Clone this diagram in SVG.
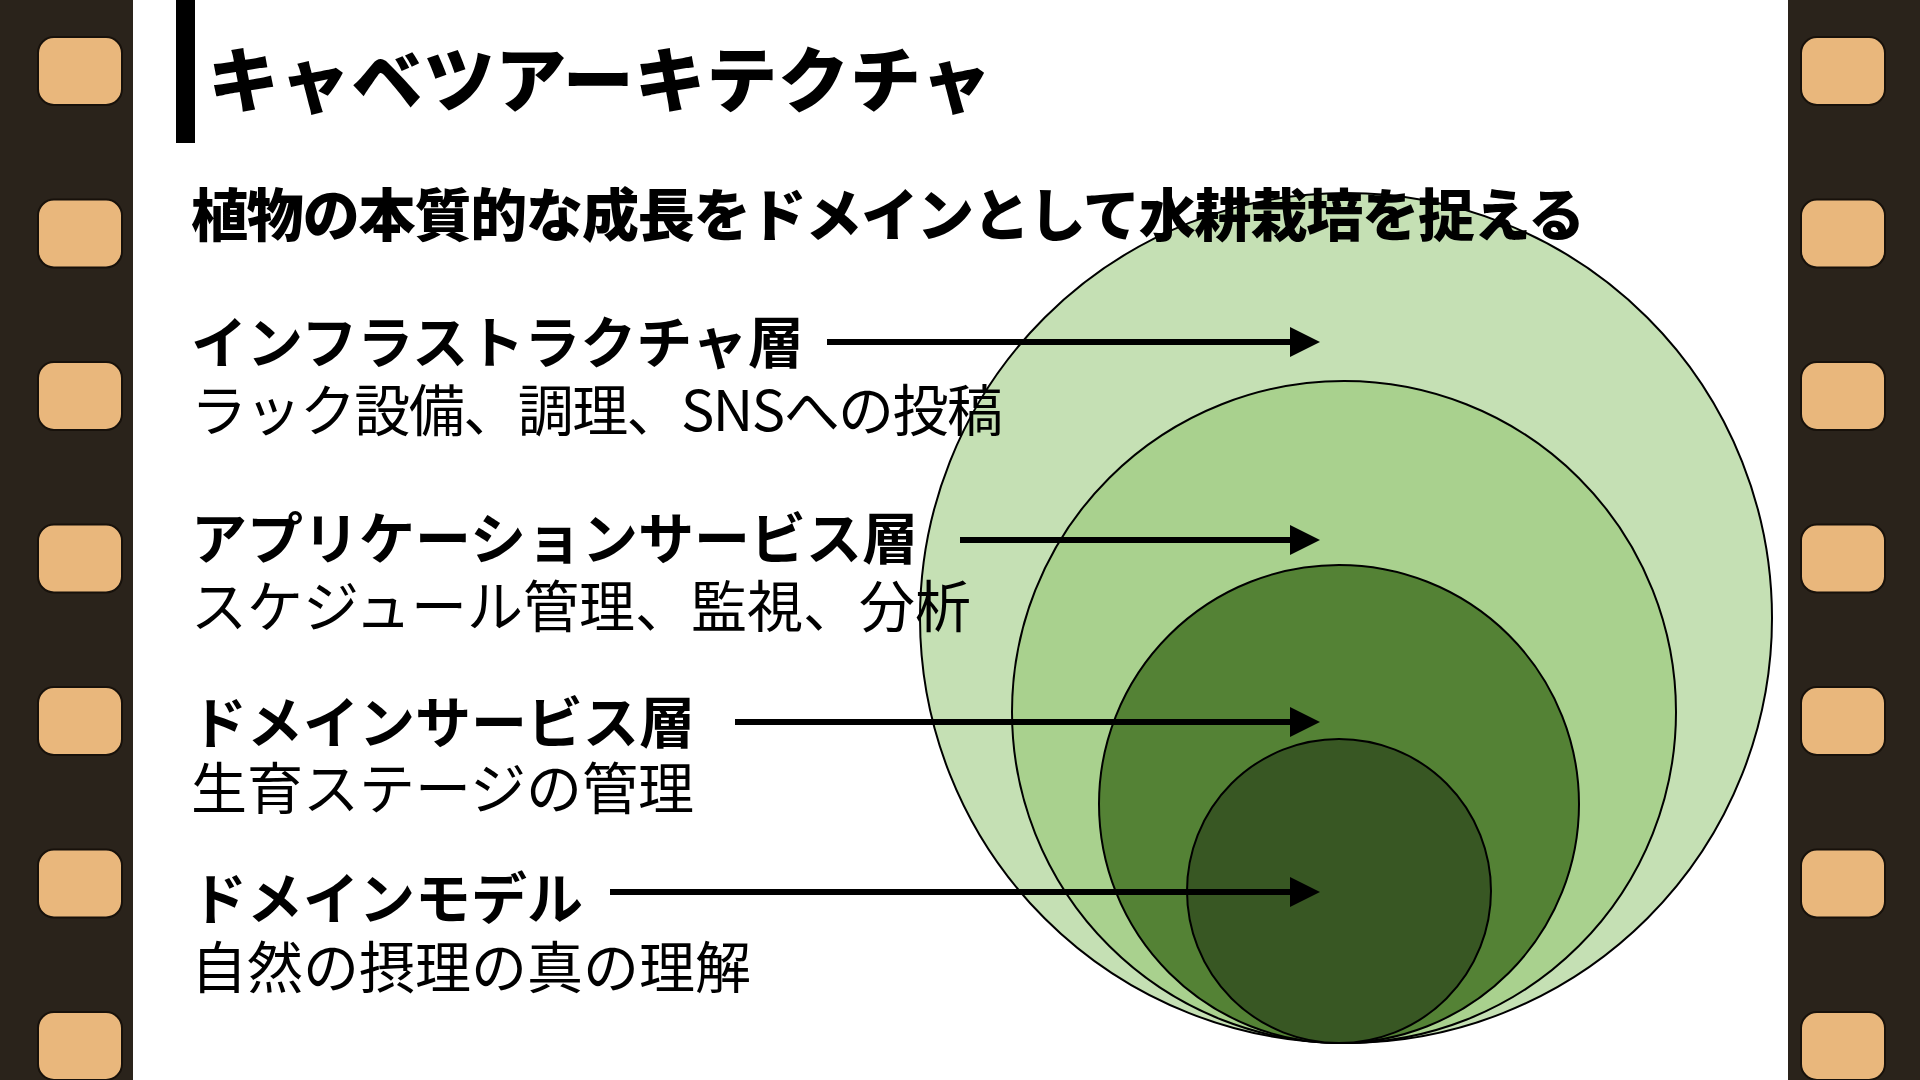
<svg xmlns="http://www.w3.org/2000/svg" width="1920" height="1080" viewBox="0 0 1920 1080">
  <style>
    .strip { fill: #2a231b; }
    .hole { fill: #e9b77c; stroke: #17110b; stroke-width: 2; }
    .ring { stroke: #000; stroke-width: 2; }
    .title { font-family: "Noto Sans CJK JP", "Noto Sans", sans-serif; font-weight: 900; font-size: 71px; fill: #000; }
    .sub { font-family: "Noto Sans CJK JP", "Noto Sans", sans-serif; font-weight: 800; font-size: 57px; fill: #000; }
    .layer { font-family: "Noto Sans CJK JP", "Noto Sans", sans-serif; font-weight: 700; font-size: 56px; fill: #000; }
    .desc { font-family: "Noto Sans CJK JP", "Noto Sans", sans-serif; font-weight: 400; font-size: 56px; fill: #000; }
    .arrow { stroke: #000; stroke-width: 6; fill: none; marker-end: url(#head); }
  </style>
  <defs>
    <marker id="head" markerUnits="userSpaceOnUse" markerWidth="30" markerHeight="30" refX="2" refY="15" orient="auto">
      <path d="M0,0 L30,15 L0,30 z" fill="#000"/>
    </marker>
    <g id="holes">
      <rect class="hole" x="0" y="37" width="84" height="68" rx="16"/>
      <rect class="hole" x="0" y="199.5" width="84" height="68" rx="16"/>
      <rect class="hole" x="0" y="362" width="84" height="68" rx="16"/>
      <rect class="hole" x="0" y="524.5" width="84" height="68" rx="16"/>
      <rect class="hole" x="0" y="687" width="84" height="68" rx="16"/>
      <rect class="hole" x="0" y="849.5" width="84" height="68" rx="16"/>
      <rect class="hole" x="0" y="1012" width="84" height="68" rx="16"/>
    </g>
  </defs>

  <rect x="0" y="0" width="1920" height="1080" fill="#fff"/>

  <g id="film-left">
    <rect class="strip" x="0" y="0" width="133" height="1080"/>
    <use href="#holes" x="38"/>
  </g>
  <g id="film-right">
    <rect class="strip" x="1788" y="0" width="132" height="1080"/>
    <use href="#holes" x="1801"/>
  </g>

  <g id="title">
    <rect x="176" y="0" width="19" height="143" fill="#000"/>
    <text class="title" x="208" y="106" textLength="784" lengthAdjust="spacing">キャベツアーキテクチャ</text>
  </g>

  <g id="circles">
    <ellipse id="ring-infra" class="ring" cx="1346" cy="618" rx="426" ry="425" fill="#c5e0b4"/>
    <ellipse id="ring-app" class="ring" cx="1344" cy="712" rx="332" ry="331" fill="#a9d18e"/>
    <ellipse id="ring-domain-service" class="ring" cx="1339" cy="804" rx="240" ry="239" fill="#548235"/>
    <ellipse id="ring-domain-model" class="ring" cx="1339" cy="891" rx="152" ry="152" fill="#385723"/>
  </g>

  <g id="connectors">
    <line class="arrow" x1="827" y1="342" x2="1292" y2="342"/>
    <line class="arrow" x1="960" y1="540" x2="1292" y2="540"/>
    <line class="arrow" x1="735" y1="722" x2="1292" y2="722"/>
    <line class="arrow" x1="610" y1="892" x2="1292" y2="892"/>
  </g>

  <g id="subtitle">
    <text class="sub" x="191" y="236" textLength="1394" lengthAdjust="spacing">植物の本質的な成長をドメインとして水耕栽培を捉える</text>
  </g>

  <g id="layer-infra">
    <text class="layer" x="191" y="363">インフラストラクチャ層</text>
    <text class="desc" x="191" y="431" textLength="812" lengthAdjust="spacing">ラック設備、調理、SNSへの投稿</text>
  </g>
  <g id="layer-app">
    <text class="layer" x="191" y="559">アプリケーションサービス層</text>
    <text class="desc" x="191" y="627">スケジュール管理、監視、分析</text>
  </g>
  <g id="layer-domain-service">
    <text class="layer" x="191" y="743">ドメインサービス層</text>
    <text class="desc" x="191" y="809">生育ステージの管理</text>
  </g>
  <g id="layer-domain-model">
    <text class="layer" x="191" y="919">ドメインモデル</text>
    <text class="desc" x="191" y="988">自然の摂理の真の理解</text>
  </g>
</svg>
